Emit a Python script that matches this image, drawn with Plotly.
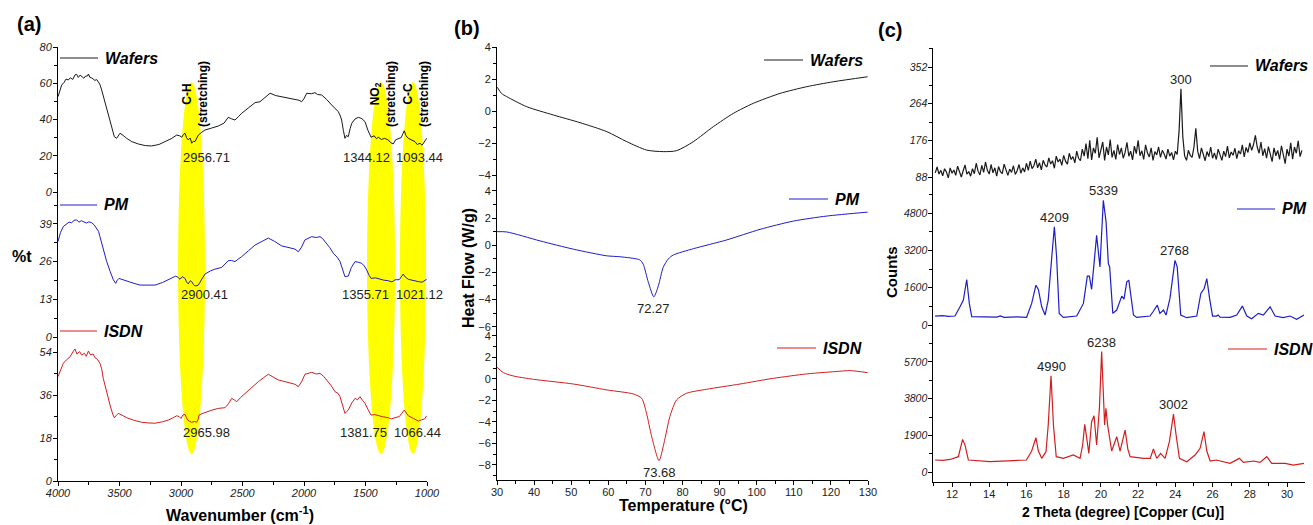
import plotly.graph_objects as go

W, H = 1313, 525
def px(v): return v / W
def py(v): return 1 - v / H

FONT = "Arial, Liberation Sans, sans-serif"
BLACK = "#1a1a1a"; BLUE = "#1e1ec8"; RED = "#d21e1e"

# ---------------- (a) FTIR ----------------
ftir_wafers_wn = [4000,3985,3970,3950,3935,3916,3900,3880,3862,3848,3835,3820,3807,3790,3775,3760,3753,3740,3725,3713,3700,3685,3672,3660,3645,3620,3591,3565,3542,3523,3510,3496,3470,3442,3400,3347,3290,3238,3180,3130,3080,3035,3010,2994,2980,2967,2955,2941,2925,2913,2900,2886,2870,2859,2830,2805,2750,2697,2650,2616,2590,2561,2530,2507,2450,2398,2358,2320,2276,2230,2181,2130,2073,2040,2019,2000,1978,1940,1911,1890,1856,1815,1775,1740,1721,1705,1694,1680,1667,1655,1640,1625,1612,1585,1558,1530,1504,1480,1455,1430,1410,1396,1370,1345,1315,1295,1274,1255,1233,1210,1185,1170,1152,1125,1098,1080,1057,1040,1020,1003]
ftir_wafers_t = [52.6,56.0,59.0,60.5,62.3,61.8,63.0,62.1,64.6,64.9,63.2,64.5,63.6,62.8,64.0,64.0,65.1,63.2,62.9,62.2,61.6,62.0,60.9,59.5,56.3,50.0,43.5,36.5,30.5,29.6,31.0,32.4,31.2,29.6,27.8,26.5,25.6,25.4,26.2,27.8,29.4,31.4,31.0,30.2,31.8,32.4,30.0,28.7,29.8,26.9,28.0,27.8,29.6,31.4,33.0,34.2,35.3,36.4,38.0,41.2,40.4,39.7,41.8,43.4,46.5,49.3,49.8,52.0,54.5,53.2,52.6,51.8,51.1,50.6,49.8,51.5,54.5,54.2,54.8,53.8,53.5,51.0,48.0,45.8,44.3,42.0,39.7,34.0,29.6,31.2,30.5,35.0,37.9,40.3,41.2,40.5,38.8,34.0,30.2,31.0,29.4,30.2,29.0,29.6,28.7,27.2,26.5,28.8,29.6,30.0,33.8,31.0,29.6,28.6,27.8,26.2,26.9,25.8,27.5,29.6]

ftir_pm_wn = [4000,3980,3957,3930,3910,3889,3870,3848,3830,3810,3794,3770,3750,3726,3705,3686,3670,3659,3630,3604,3575,3550,3531,3518,3504,3470,3442,3390,3333,3270,3211,3150,3103,3070,3043,3025,3008,2990,2967,2955,2941,2925,2913,2900,2886,2870,2859,2830,2805,2760,2724,2669,2640,2616,2590,2561,2530,2507,2450,2398,2340,2290,2240,2181,2130,2073,2046,2020,1992,1960,1937,1900,1870,1850,1829,1790,1762,1730,1707,1685,1667,1652,1640,1615,1585,1560,1531,1510,1490,1470,1455,1420,1382,1350,1315,1285,1260,1225,1193,1175,1152,1110,1071,1040,1020,1003]
ftir_pm_t = [32.9,36.0,38.1,38.9,39.6,39.4,40.2,40.4,39.6,40.1,39.8,39.3,39.7,39.4,38.6,37.5,36.4,34.6,30.0,26.0,22.5,19.7,18.5,19.6,20.2,19.8,19.4,18.6,17.9,17.8,17.9,18.8,19.7,20.4,21.0,20.6,19.9,20.8,20.2,19.0,18.3,19.4,19.1,18.2,17.6,17.7,17.9,20.0,21.7,22.8,23.4,24.0,25.2,26.3,26.4,26.0,27.0,27.7,29.8,31.7,33.0,34.1,33.0,31.4,30.9,30.3,29.4,31.0,33.5,34.0,34.6,34.3,34.6,34.0,32.9,30.8,28.9,27.5,26.0,23.5,20.8,20.9,21.0,24.0,26.0,25.8,25.4,24.5,23.1,21.2,20.2,20.4,19.9,19.6,19.4,19.0,19.7,19.8,21.7,20.6,19.9,19.4,19.1,18.9,19.3,19.9]

ftir_isdn_wn = [4000,3980,3957,3930,3902,3880,3862,3845,3825,3807,3785,3770,3753,3735,3715,3699,3680,3659,3645,3632,3605,3577,3555,3542,3525,3510,3480,3442,3380,3320,3260,3211,3150,3103,3060,3035,3015,3000,2985,2967,2955,2946,2930,2913,2890,2873,2860,2854,2820,2778,2740,2697,2642,2615,2588,2565,2547,2515,2480,2420,2371,2330,2290,2250,2209,2170,2128,2073,2046,2020,1992,1960,1937,1900,1870,1840,1815,1780,1748,1725,1707,1690,1667,1655,1640,1610,1585,1565,1545,1525,1504,1480,1455,1425,1396,1360,1315,1290,1260,1225,1185,1170,1152,1110,1071,1045,1020,1003]
ftir_isdn_t = [43.7,46.5,49.3,50.8,52.0,54.0,55.3,53.1,54.2,52.7,53.5,52.2,54.4,52.8,53.2,51.6,51.0,49.3,47.0,43.0,37.0,31.8,28.0,26.5,27.5,28.3,27.6,26.5,25.4,24.6,24.3,24.2,24.8,25.5,26.6,27.3,27.0,26.2,27.6,27.9,26.5,25.5,25.0,24.6,24.9,24.6,26.0,27.6,28.4,29.3,29.8,30.4,30.7,32.3,34.6,33.9,33.2,35.0,36.7,39.2,41.6,43.2,44.7,43.5,42.3,41.8,41.3,40.5,39.5,41.5,44.7,45.0,45.5,44.8,45.1,43.8,42.3,40.0,37.4,36.8,35.3,32.0,28.3,29.0,29.7,32.8,34.6,34.0,35.3,33.8,32.5,30.0,27.6,27.8,27.3,26.9,26.5,26.0,26.5,27.0,29.7,28.4,27.3,26.2,25.1,25.6,26.0,27.3]

band_labels = ["C-H<br>(stretching)", "NO<sub>2</sub><br>(stretching)", "C-C<br>(stretching)"]
band_lo = [3024, 1488, 1220]
band_hi = [2805, 1260, 1008]

ftir_peak_wafers = ["2956.71", "1344.12", "1093.44"]
ftir_peak_pm = ["2900.41", "1355.71", "1021.12"]
ftir_peak_isdn = ["2965.98", "1381.75", "1066.44"]

# ---------------- (b) DSC ----------------
dsc_wafers_T = [30.1,31.2,32.6,38,45.2,52.4,59.6,65,70.3,74.8,78.4,82.9,88.3,93.7,99.1,106.3,113.5,120.7,129.9]
dsc_wafers_hf = [1.48,1.1,0.9,0.27,-0.25,-0.73,-1.29,-1.92,-2.44,-2.54,-2.48,-1.92,-0.98,-0.15,0.48,1.1,1.52,1.83,2.14]

dsc_pm_T = [30,32.6,41.6,50.6,59.6,63.2,68.5,69.4,70.8,72.27,73.5,74.8,76.2,77.5,83,91.9,100.9,109.9,118.9,129.9]
dsc_pm_hf = [1.0,0.98,0.32,-0.29,-0.78,-0.85,-1.08,-1.39,-2.73,-3.8,-2.98,-1.63,-1.0,-0.72,-0.25,0.39,1.17,1.78,2.15,2.44]

dsc_isdn_T = [30,31.7,34.4,39.8,50.6,59.6,66.8,69,70.3,71.7,73.68,75,76.6,78.4,81.1,86.5,95.5,104.5,113.5,122.4,125.1,129.9]
dsc_isdn_hf = [1.09,0.59,0.28,-0.03,-0.47,-1.02,-1.4,-1.8,-3.19,-5.37,-7.6,-5.98,-3.5,-1.95,-1.33,-0.96,-0.47,0.06,0.47,0.72,0.78,0.59]

dsc_peaks = [("PM", 72.27, -3.8), ("ISDN", 73.68, -7.6)]

# ---------------- (c) XRD ----------------
xrd_wafers_2theta_start, xrd_wafers_step = 11.1, 0.1
xrd_wafers_counts = [
    98,112,95,104,91,108,100,86,110,97,
    105,92,114,99,88,103,117,95,101,90,
    108,96,121,102,93,116,99,124,104,95,
    118,98,110,90,113,101,96,119,105,92,
    107,99,115,94,103,118,97,110,100,121,
    104,126,108,115,131,110,122,105,128,117,
    112,134,119,127,109,138,124,131,116,140,
    126,119,145,130,137,122,150,133,127,155,
    138,168,132,176,129,158,145,183,134,150,
    172,128,160,141,178,135,152,130,166,142,
    158,133,147,171,138,150,129,162,144,176,
    139,151,130,165,146,136,158,128,149,141,
    160,135,152,143,131,155,138,147,129,150,
    142,198,300,185,138,128,152,140,135,160,
    205,150,132,158,141,127,149,137,160,133,
    146,130,155,141,128,150,137,162,134,148,
    140,157,132,151,143,165,136,159,147,170,
    152,166,188,160,145,172,139,156,133,161,
    144,125,158,139,152,130,163,141,120,155,
    138,170,131,160,145,175,137,152]
xrd_wafers_2theta = [round(xrd_wafers_2theta_start + i * xrd_wafers_step, 2) for i in range(len(xrd_wafers_counts))]

xrd_pm_2theta = [11.09,11.5,11.8,12.16,12.43,12.61,12.79,12.93,13.06,13.6,14.4,14.6,14.8,15.5,16.01,16.28,16.51,16.64,16.82,17.0,17.17,17.36,17.5,17.62,17.76,17.98,18.4,18.7,19.06,19.27,19.38,19.5,19.63,19.77,19.95,20.13,20.28,20.4,20.47,20.64,20.85,21.12,21.24,21.39,21.5,21.62,21.75,21.92,22.3,22.64,22.8,23.03,23.17,23.36,23.5,23.71,23.98,24.1,24.29,24.61,25.15,25.37,25.55,25.69,25.84,26.0,26.22,26.3,26.4,26.94,27.3,27.6,27.84,28.1,28.46,28.73,29.09,29.36,29.8,30.16,30.52,30.91]
xrd_pm_counts = [384,400,370,384,782,1067,1950,925,355,340,340,390,330,345,330,925,1707,1522,782,427,1067,2915,4209,2915,498,327,360,384,925,2091,2091,1522,2631,3840,2489,5339,4408,2631,2489,498,640,1237,1110,1849,1920,1067,427,327,360,384,569,853,498,640,427,1138,2768,2489,427,313,384,1351,1565,1991,1138,384,384,430,340,327,427,810,384,270,498,427,782,384,313,384,242,427]

xrd_isdn_2theta = [11.09,11.5,11.9,12.34,12.57,12.7,12.88,13.5,14.04,15.0,16.0,16.28,16.51,16.64,16.82,17.05,17.17,17.32,17.45,17.6,17.98,18.52,18.88,19.02,19.13,19.24,19.35,19.5,19.63,19.77,19.92,20.04,20.13,20.2,20.27,20.36,20.58,20.85,21.03,21.3,21.45,21.57,22.29,22.65,22.82,23.0,23.21,23.45,23.68,23.9,24.04,24.22,24.61,25.06,25.33,25.54,25.69,25.87,26.2,26.94,27.44,27.66,28.2,28.55,28.91,29.18,29.9,30.34,30.91]
xrd_isdn_counts = [621,600,650,794,1691,1394,621,560,535,580,621,1087,1777,1087,707,1053,2433,4990,2433,794,707,880,707,1398,2469,1743,967,2606,2917,1398,3297,6238,4159,2433,3297,2433,1087,1829,1087,2174,1173,794,707,707,1191,707,967,707,1570,3002,1915,707,535,880,1225,2088,1087,570,621,449,707,500,570,500,794,449,449,362,449]

xrd_peaks_wafers = [(24.3, 300)]
xrd_peaks_pm = [(17.5, 4209), (20.13, 5339), (23.98, 2768)]
xrd_peaks_isdn = [(17.32, 4990), (20.04, 6238), (23.9, 3002)]

series_names = ["Wafers", "PM", "ISDN"]
series_colors = [BLACK, BLUE, RED]

# ---------------- figure ----------------
fig = go.Figure()

def add(x, y, xa, ya, color, name, spline=False, width=1.0):
    line = dict(color=color, width=width)
    if spline:
        line.update(shape="spline", smoothing=0.7)
    fig.add_trace(go.Scatter(x=x, y=y, xaxis=xa, yaxis=ya, mode="lines", line=line,
                             name=name, showlegend=False, hoverinfo="skip"))

add(ftir_wafers_wn, ftir_wafers_t, "x", "y", BLACK, "Wafers")
add(ftir_pm_wn, ftir_pm_t, "x", "y2", BLUE, "PM")
add(ftir_isdn_wn, ftir_isdn_t, "x", "y3", RED, "ISDN")
add(dsc_wafers_T, dsc_wafers_hf, "x2", "y4", BLACK, "Wafers", spline=True)
add(dsc_pm_T, dsc_pm_hf, "x2", "y5", BLUE, "PM", spline=True)
add(dsc_isdn_T, dsc_isdn_hf, "x2", "y6", RED, "ISDN", spline=True)
add(xrd_wafers_2theta, xrd_wafers_counts, "x3", "y7", BLACK, "Wafers", width=1.2)
add(xrd_pm_2theta, xrd_pm_counts, "x3", "y8", BLUE, "PM", width=1.2)
add(xrd_isdn_2theta, xrd_isdn_counts, "x3", "y9", RED, "ISDN", width=1.2)

def axis(domain, rng, anchor, tick0, dtick, minor, italic, size=11, is_x=False):
    d = dict(domain=domain, range=rng, anchor=anchor, showline=True, linecolor="black",
             linewidth=1, ticks="outside", ticklen=4, tickwidth=1, tickcolor="black",
             tickmode="linear", tick0=tick0, dtick=dtick, automargin=False,
             minor=dict(tickmode="linear", tick0=tick0, dtick=minor, ticks="outside",
                        ticklen=3, tickcolor="black", showgrid=False),
             showgrid=False, zeroline=False,
             tickfont=dict(family=FONT, size=size, color="#222",
                           style="italic" if italic else "normal"))
    d["ticklabelstandoff"] = -2 if is_x else -1
    return d

lay = dict(
    xaxis=axis([px(58), px(427)], [4000, 1000], "y3", 1000, 500, 250, True, is_x=True),
    yaxis=axis([py(192), py(47)], [0, 80], "x", 0, 20, 10, True),
    yaxis2=axis([py(337), py(192)], [0, 50.0], "x", 0, 13, 6.5, True),
    yaxis3=axis([py(481), py(337)], [0, 60.3], "x", 0, 18, 9, True),
    xaxis2=axis([px(497), px(868)], [30, 130], "y6", 30, 10, 5, False, is_x=True),
    yaxis4=axis([py(187), py(47)], [-4.75, 4], "x2", 0, 2, 1, False),
    yaxis5=axis([py(332), py(187)], [-6.39, 4.29], "x2", 0, 2, 1, False),
    yaxis6=axis([py(480), py(332)], [-9.4, 4.37], "x2", 0, 2, 1, False),
    xaxis3=axis([px(933.4), px(1304.7)], [11, 30.95], "y9", 12, 2, 1, False, is_x=True),
    yaxis7=axis([py(192), py(48)], [52, 397.6], "x3", 0, 88, 44, True, 10.5),
    yaxis8=axis([py(332), py(192)], [-300, 5700], "x3", 0, 1600, 800, True, 10.5),
    yaxis9=axis([py(482), py(332)], [-518, 7254], "x3", 0, 1900, 950, True, 10.5),
)

fig.update_layout(width=W, height=H, autosize=False, margin=dict(l=0, r=0, t=0, b=0, pad=0),
                  paper_bgcolor="white", plot_bgcolor="rgba(0,0,0,0)", showlegend=False,
                  font=dict(family=FONT, color="#222"), **lay)

# yellow bands
for lo, hi in zip(band_lo, band_hi):
    fig.add_shape(type="circle", xref="x", yref="paper", x0=lo, x1=hi, y0=py(454), y1=py(82),
                  fillcolor="rgb(255,255,0)", line=dict(width=0), layer="below")

ann = []
band_label_x = [2886, 1358, 1090]
for t, bx in zip(band_labels, band_label_x):
    ann.append(dict(x=bx, y=py(94), xref="x", yref="paper", text=t, textangle=-90, showarrow=False,
                    xanchor="center", yanchor="middle",
                    font=dict(family=FONT, size=12, color="black", weight="bold")))

lab_x = [2789, 1494, 1057]
lab_x2 = [2805, 1496, 1057]
lab_x3 = [2789, 1516, 1077]
for t, x in zip(ftir_peak_wafers, lab_x):
    ann.append(dict(x=x, y=19.3, xref="x", yref="y", text=t, showarrow=False, font=dict(size=13)))
for t, x in zip(ftir_peak_pm, lab_x2):
    ann.append(dict(x=x, y=14.5, xref="x", yref="y2", text=t, showarrow=False, font=dict(size=13)))
for t, x in zip(ftir_peak_isdn, lab_x3):
    ann.append(dict(x=x, y=20.2, xref="x", yref="y3", text=t, showarrow=False, font=dict(size=13)))

for (nm, T, v), yr in zip(dsc_peaks, ["y5", "y6"]):
    ann.append(dict(x=T, y=v, xref="x2", yref=yr, text=f"{T:.2f}", showarrow=False,
                    yanchor="top", yshift=-2, font=dict(size=13)))

for peaks, yr in [(xrd_peaks_wafers, "y7"), (xrd_peaks_pm, "y8"), (xrd_peaks_isdn, "y9")]:
    for th, c in peaks:
        ann.append(dict(x=th, y=c, xref="x3", yref=yr, text=str(c), showarrow=False,
                        yanchor="bottom", yshift=0, font=dict(size=13)))

def ptxt(x, y, t, size, angle=0, bold=True, italic=False, xanchor="center", yanchor="middle"):
    ann.append(dict(x=px(x), y=py(y), xref="paper", yref="paper", text=t, showarrow=False,
                    textangle=angle, xanchor=xanchor, yanchor=yanchor, borderpad=0,
                    font=dict(family=FONT, size=size, color="black",
                              weight="bold" if bold else "normal",
                              style="italic" if italic else "normal")))

# legend keys (line sample + label) for each panel
legend_keys = {
    "a": [(60, 98, 58), (60, 97, 205), (60, 97, 331)],
    "b": [(764, 803, 60), (789, 828, 199), (777, 816, 348)],
    "c": [(1210, 1248, 66), (1237, 1275, 209), (1228, 1267, 349)],
}
for panel, keys in legend_keys.items():
    for (x0, x1, yk), nm, col in zip(keys, series_names, series_colors):
        fig.add_shape(type="line", xref="paper", yref="paper", x0=px(x0), x1=px(x1),
                      y0=py(yk), y1=py(yk), line=dict(color=col, width=1))
        ptxt(x1 + 6, yk, nm, 16, italic=True, xanchor="left")

ptxt(29, 24, "(a)", 20)
ptxt(467, 28, "(b)", 20)
ptxt(890, 30, "(c)", 20)
ptxt(22, 256, "%t", 16)
ptxt(240, 525, "Wavenumber (cm<sup>-1</sup>)", 16, yanchor="bottom")
ptxt(468, 268, "Heat Flow (W/g)", 16, -90)
ptxt(683, 505, "Temperature (°C)", 16)
ptxt(891, 272, "Counts", 15, -90)
ptxt(1123, 512, "2 Theta (degree) [Copper (Cu)]", 14)

fig.update_layout(annotations=ann)
fig.write_html("out.html", config={"displayModeBar": False},
               post_script="document.body.style.margin='0px';document.body.style.overflow='hidden';")
